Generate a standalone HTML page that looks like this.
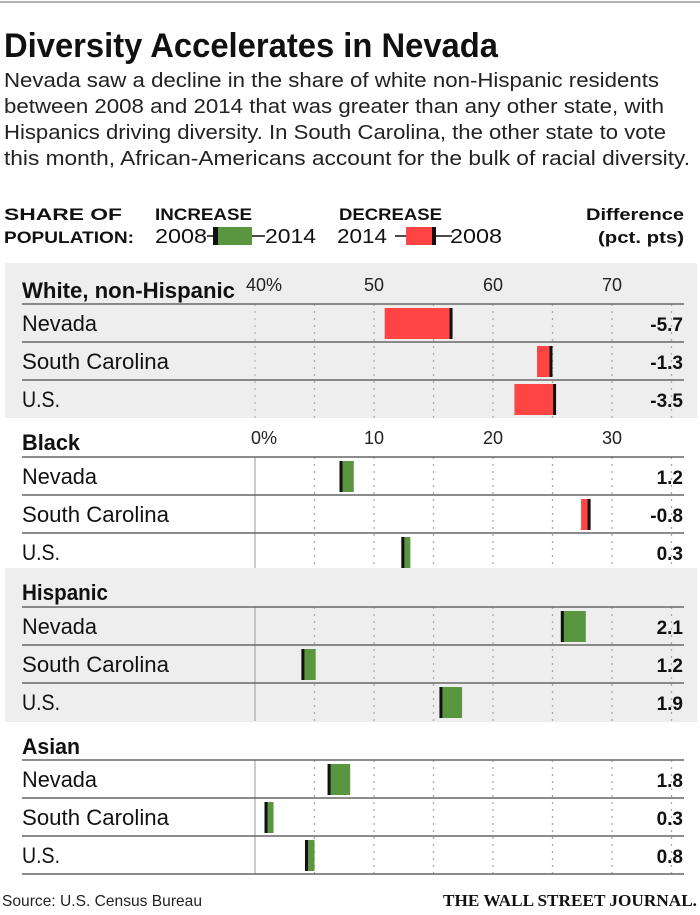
<!DOCTYPE html>
<html><head><meta charset="utf-8"><style>
body{margin:0;background:#fff;}
svg{display:block;font-family:"Liberation Sans Narrow","Liberation Sans",sans-serif;}
</style></head><body>
<svg id="chart" width="700" height="915" viewBox="0 0 700 915" xmlns="http://www.w3.org/2000/svg">
<rect x="0" y="0" width="700" height="915" fill="#fff"/>
<line x1="0" y1="2" x2="700" y2="2" stroke="#666" stroke-width="1"/>
<text x="4" y="57" font-size="34" font-weight="bold" fill="#111" textLength="494" lengthAdjust="spacingAndGlyphs">Diversity Accelerates in Nevada</text>
<g font-size="20" fill="#222">
<text x="4" y="87" textLength="655" lengthAdjust="spacingAndGlyphs">Nevada saw a decline in the share of white non-Hispanic residents</text>
<text x="4" y="113" textLength="660" lengthAdjust="spacingAndGlyphs">between 2008 and 2014 that was greater than any other state, with</text>
<text x="4" y="139" textLength="662" lengthAdjust="spacingAndGlyphs">Hispanics driving diversity. In South Carolina, the other state to vote</text>
<text x="4" y="165" textLength="686" lengthAdjust="spacingAndGlyphs">this month, African-Americans account for the bulk of racial diversity.</text>
</g>
<g fill="#111">
<text x="4" y="220" font-size="17" font-weight="bold" textLength="118" lengthAdjust="spacingAndGlyphs">SHARE OF</text>
<text x="4" y="243" font-size="17" font-weight="bold" textLength="130" lengthAdjust="spacingAndGlyphs">POPULATION:</text>
<text x="155" y="220" font-size="17" font-weight="bold" textLength="97" lengthAdjust="spacingAndGlyphs">INCREASE</text>
<text x="155" y="243" font-size="20" textLength="52" lengthAdjust="spacingAndGlyphs">2008</text>
<line x1="207" y1="236" x2="265" y2="236" stroke="#111" stroke-width="1.5"/>
<rect x="213" y="227" width="5" height="18" fill="#111"/>
<rect x="218" y="227" width="34" height="18" fill="#5a9640"/>
<text x="265" y="243" font-size="20" textLength="51" lengthAdjust="spacingAndGlyphs">2014</text>
<text x="339" y="220" font-size="17" font-weight="bold" textLength="103" lengthAdjust="spacingAndGlyphs">DECREASE</text>
<text x="337" y="243" font-size="20" textLength="50" lengthAdjust="spacingAndGlyphs">2014</text>
<line x1="395" y1="236" x2="452" y2="236" stroke="#111" stroke-width="1.5"/>
<rect x="406" y="227" width="29" height="18" fill="#ff4444"/>
<rect x="432" y="227" width="4" height="18" fill="#111"/>
<text x="450" y="243" font-size="20" textLength="52" lengthAdjust="spacingAndGlyphs">2008</text>
<text x="684" y="220" font-size="17" font-weight="bold" text-anchor="end" textLength="98" lengthAdjust="spacingAndGlyphs">Difference</text>
<text x="684" y="243" font-size="17" font-weight="bold" text-anchor="end" textLength="86" lengthAdjust="spacingAndGlyphs">(pct. pts)</text>
</g>
<g id="plot"></g>
<text x="2" y="906" font-size="16" fill="#222" textLength="200" lengthAdjust="spacingAndGlyphs">Source: U.S. Census Bureau</text>
<text x="697" y="906" font-size="17" font-family="Liberation Serif,serif" font-weight="bold" text-anchor="end" fill="#111" textLength="254" lengthAdjust="spacingAndGlyphs">THE WALL STREET JOURNAL.</text>
</svg>
<script>
const groups = ["White, non-Hispanic","Black","Hispanic","Asian"];
const places = ["Nevada","South Carolina","U.S."];
const values2008 = [[56.6,65.0,65.3],[7.1,28.2,12.3],[25.7,3.9,15.5],[6.1,0.8,4.2]];
const values2014 = [[50.9,63.7,61.8],[8.3,27.4,12.6],[27.8,5.1,17.4],[8.0,1.1,5.0]];
const diffLabels = [["-5.7","-1.3","-3.5"],["1.2","-0.8","0.3"],["2.1","1.2","1.9"],["1.8","0.3","0.8"]];
const ticksWhite = ["40%","50","60","70"];
const tickValsWhite = [40,50,60,70];
const ticksOther = ["0%","10","20","30"];
const tickValsOther = [0,10,20,30];

const NS="http://www.w3.org/2000/svg";
const plot=document.getElementById('plot');
function mk(tag,attrs,parent){const e=document.createElementNS(NS,tag);for(const k in attrs)e.setAttribute(k,attrs[k]);(parent||plot).appendChild(e);return e;}
const X0=255, PX=11.9;
function xScale(v,base){return X0+(v-base)*PX;}
const sectionTops=[263,418,568,722];
const sectionH=[155,150,154,151];
const bgFill=["#eeeeee","#ffffff","#eeeeee","#ffffff"];
const titleLen=[213,58,86,58];
const placeLen=[75,147,38];
groups.forEach((g,gi)=>{
  const top=sectionTops[gi];
  const base= gi===0?40:0;
  const sec=mk('g',{});
  
  
  const bg=mk('rect',{x:5,y:top,width:692,height:sectionH[gi],fill:bgFill[gi]},sec);
  
  
  const hy=top+(gi===0?35:32);
  const ht=mk('text',{x:22,y:hy,'font-size':22,'font-weight':'bold',fill:'#111',textLength:titleLen[gi],lengthAdjust:'spacingAndGlyphs'},sec);
  ht.textContent=g;
  
  
  const tl=gi===0?ticksWhite:ticksOther, tv=gi===0?tickValsWhite:tickValsOther;
  if(gi<2){
    tl.forEach((t,i)=>{
      const tx=mk('text',{x:xScale(tv[i],base)+(i===0?9:0),y:top+(gi===0?28:26),'font-size':18,fill:'#222','text-anchor':'middle'},sec);
      tx.textContent=t;
      
      
    });
  }
  const lineTop=top+(gi===0?41:39)-(gi===3?1:0);
  const rowH=38;
  for(let v=base+5; v<=base+35; v+=5){
    const gl=mk('line',{x1:xScale(v,base),x2:xScale(v,base),y1:lineTop,y2:lineTop+rowH*3,stroke:'#aaa','stroke-width':1.3,'stroke-dasharray':'2 5'},sec);
    
    
  }
  const zl=mk('line',{x1:X0,x2:X0,y1:lineTop,y2:lineTop+rowH*3,stroke:gi===0?'#aaa':'#999','stroke-width':1,'stroke-dasharray':gi===0?'2 5':'none'},sec);
  
  
  places.forEach((p,pi)=>{
    const ry=lineTop+pi*rowH;
    const rl=mk('line',{x1:22,x2:684,y1:ry,y2:ry,stroke:'#666','stroke-width':1.5},sec);
    
    
    const lt=mk('text',{x:22,y:ry+27,'font-size':22,fill:'#111',textLength:placeLen[pi],lengthAdjust:'spacingAndGlyphs'},sec);
    lt.textContent=p;
    
    
    const a=values2008[gi][pi], b=values2014[gi][pi];
    const xa=xScale(a,base), xb=xScale(b,base);
    const up=b>=a;
    const w=Math.max(Math.abs(xb-xa),9);
    const bx=up?xa:xa-w;
    const bar=mk('rect',{x:bx,y:ry+4,width:w,height:31,fill:up?'#5a9640':'#ff4444'},sec);
    
    
    const mark=mk('rect',{x:up?xa:xa-3,y:ry+4,width:3,height:31,fill:'#111'},sec);
    
    
    const dv=mk('text',{x:683,y:ry+27,'font-size':19,'font-weight':'bold','text-anchor':'end',fill:'#111'},sec);
    dv.textContent=diffLabels[gi][pi];
    
    
  });
  if(gi===3){
    const bl=mk('line',{x1:22,x2:684,y1:lineTop+rowH*3,y2:lineTop+rowH*3,stroke:'#666','stroke-width':1.5},sec);
    
    
  }
});
</script>
</body></html>
